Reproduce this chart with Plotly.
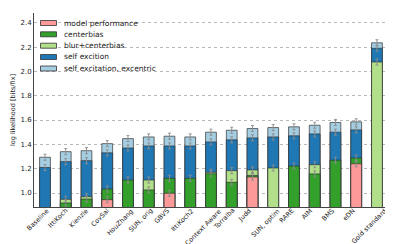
import plotly.graph_objects as go

models = ["Baseline", "IttiKoch", "Kienzle", "CovSal", "HouZhang", "SUN, orig", "GBVS",
          "IttiKoch2", "Context Aware", "Torralba", "Judd", "SUN, optim", "RARE", "AIM",
          "BMS", "eDN", "Gold standard"]

series_names = ["model performance", "centerbias", "blur+centerbias", "self excition",
                "self excitation, excentric"]

# levels (log likelihood, bits/fix) at the top of each segment
model_perf = [None, None, None, 0.945, None, None, 0.998, None, None, None, 1.132, None,
              None, None, None, 1.24, None]
centerbias = [None, 0.918, 0.95, 1.033, 1.107, 1.025, 1.121, 1.121, 1.158, 1.088, 1.145, None,
              1.222, 1.157, 1.27, 1.288, None]
blur_cb = [None, 0.948, 0.97, None, None, 1.107, None, None, 1.17, 1.184, 1.19, 1.206,
           None, 1.233, None, None, 2.077]
self_exc = [1.21, 1.258, 1.266, 1.33, 1.37, 1.387, 1.387, 1.387, 1.42, 1.437, 1.453, 1.461,
            1.47, 1.486, 1.50, 1.519, 2.19]
self_exc_ex = [1.294, 1.34, 1.348, 1.406, 1.447, 1.461, 1.467, 1.461, 1.50, 1.516, 1.53,
               1.538, 1.544, 1.557, 1.58, 1.585, 2.235]
err = 0.025

colors = ["#fb9a99", "#33a02c", "#b2df8a", "#1f78b4", "#a6cee3"]
series = [model_perf, centerbias, blur_cb, self_exc, self_exc_ex]

W, H = 393, 244
L, R, T, B = 26, 6, 5, 45
font = "DejaVu Sans"

fig = go.Figure()
# draw tallest first so shorter levels overlay
for idx in [4, 3, 2, 1, 0]:
    vals = series[idx]
    fig.add_trace(go.Bar(
        x=models, y=vals, name=series_names[idx], width=0.52,
        marker=dict(color=colors[idx], line=dict(color="rgba(50,50,50,0.7)", width=1)),
        error_y=dict(type="constant", value=err, color="rgba(140,140,140,0.9)",
                     thickness=1, width=1.5),
        showlegend=False,
    ))

# pixel -> paper helpers
pw = W - L - R
ph = H - T - B
def px(x):
    return (x - L) / pw
def py(y):
    return 1 - (y - T) / ph

shapes = []
annotations = []
leg_y = [15, 26.3, 37.7, 49, 60.5]
for i, name in enumerate(series_names):
    yc = leg_y[i]
    shapes.append(dict(type="rect", xref="paper", yref="paper",
                       x0=px(32.5), x1=px(48.5), y0=py(yc + 2.5), y1=py(yc - 2.5),
                       fillcolor=colors[i], line=dict(color="rgba(50,50,50,0.8)", width=1)))
    annotations.append(dict(text=name, xref="paper", yref="paper", x=px(54), y=py(yc),
                            xanchor="left", yanchor="middle", showarrow=False,
                            font=dict(family=font, size=7.5, color="#222")))

# category labels, rotated 45 degrees and centred on each bar
for m in models:
    annotations.append(dict(text=m, xref="x", yref="paper", x=m, y=py(199),
                            xanchor="center", yanchor="top", textangle=-45,
                            xshift=-7.5,
                            showarrow=False, borderpad=0, borderwidth=0,
                            font=dict(family=font, size=6.5, color="#222")))

fig.update_layout(
    width=W, height=H, barmode="overlay",
    margin=dict(l=L, r=R, t=T, b=B),
    plot_bgcolor="white", paper_bgcolor="white",
    font=dict(family=font, size=7, color="#222"),
    shapes=shapes, annotations=annotations,
    xaxis=dict(type="category", range=[-0.53, 16.87],
               showline=True, linecolor="#444", linewidth=1, showgrid=False,
               ticks="", showticklabels=False, zeroline=False, automargin=False),
    yaxis=dict(range=[0.885, 2.48], tickvals=[1.0, 1.2, 1.4, 1.6, 1.8, 2.0, 2.2, 2.4],
               ticktext=["1.0", "1.2", "1.4", "1.6", "1.8", "2.0", "2.2", "2.4"],
               showline=True, linecolor="#444", linewidth=1,
               showgrid=True, gridcolor="#b8b8b8", griddash="dot", gridwidth=1,
               ticks="", tickfont=dict(size=7), zeroline=False, automargin=False,
               title=dict(text="log likelihood [bits/fix]", font=dict(size=6.5), standoff=4)),
)

fig.write_html("out.html")
